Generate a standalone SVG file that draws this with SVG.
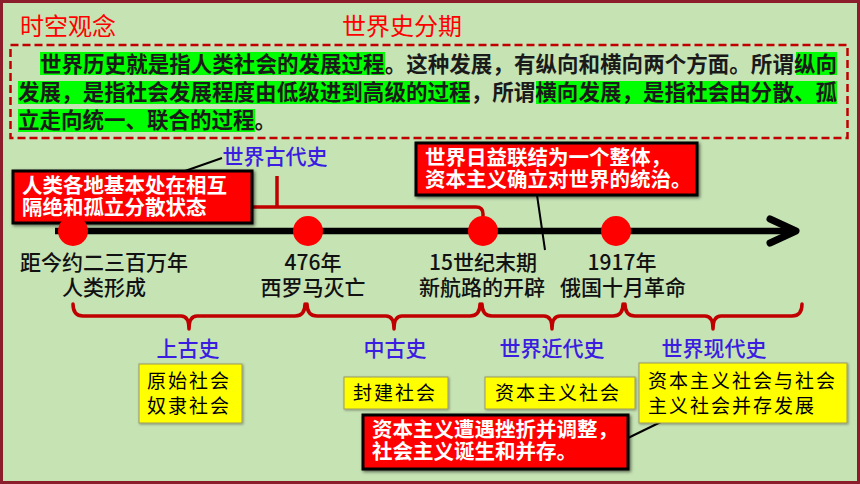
<svg xmlns="http://www.w3.org/2000/svg" width="860" height="484" viewBox="0 0 860 484">
<defs>
<style>
.hd{font-family:"Noto Sans CJK SC","Noto Sans",sans-serif;font-size:24px;fill:#FF0000}
.para{font-family:"Noto Sans CJK SC","Noto Sans",sans-serif;font-size:21.5px;font-weight:700;fill:#1a1a1a}
.hl{fill:#00FF00}
.lbl{font-family:"Noto Sans CJK SC","Noto Sans",sans-serif;font-size:21px;font-weight:500;fill:#111;text-anchor:middle}
.blue{font-family:"Noto Sans CJK SC","Noto Sans",sans-serif;font-size:21px;font-weight:500;fill:#3A1DE0;text-anchor:middle}
.rbox{fill:#FF0000;stroke:#000;stroke-width:3;filter:url(#sh)}
.rtxt{font-family:"Noto Sans CJK SC","Noto Sans",sans-serif;font-size:20.5px;font-weight:700;fill:#fff}
.ybox{fill:#FFFF00;stroke:#9a9a60;stroke-width:1;filter:url(#sh2)}
.ytxt{font-family:"Noto Sans CJK SC","Noto Sans",sans-serif;font-size:19px;fill:#000;letter-spacing:2px}
.brace{fill:none;stroke:#C00000;stroke-width:3.5;stroke-linecap:round;stroke-linejoin:round}
.dot{fill:#FF0000}
.lead{fill:none;stroke:#000;stroke-width:2}
</style>
<filter id="sh" x="-10%" y="-20%" width="120%" height="140%">
<feDropShadow dx="1.5" dy="1.5" stdDeviation="1.5" flood-color="#000" flood-opacity="0.55"/>
</filter>
<filter id="sh2" x="-10%" y="-20%" width="120%" height="140%">
<feDropShadow dx="1" dy="1" stdDeviation="1" flood-color="#000" flood-opacity="0.35"/>
</filter>
</defs>
<rect x="1.5" y="1.5" width="857" height="481" fill="#C6E3B4" stroke="#8B1E2A" stroke-width="3"/>

<g id="titles">
<text class="hd" x="20" y="35">时空观念</text>
<text class="hd" x="342" y="35">世界史分期</text>
</g>

<g id="definition">
<rect x="10.5" y="45" width="837" height="93" fill="none" stroke="#C00000" stroke-width="2.5" stroke-dasharray="8,4"/>
<rect class="hl" x="40" y="52" width="345" height="23"/>
<rect class="hl" x="796" y="52" width="41" height="23"/>
<rect class="hl" x="18" y="81" width="452" height="23"/>
<rect class="hl" x="536" y="81" width="301" height="23"/>
<rect class="hl" x="18" y="109" width="237" height="23"/>
<text class="para" x="40" y="72" textLength="797" lengthAdjust="spacing">世界历史就是指人类社会的发展过程。这种发展，有纵向和横向两个方面。所谓纵向</text>
<text class="para" x="18" y="100" textLength="819" lengthAdjust="spacing">发展，是指社会发展程度由低级进到高级的过程，所谓横向发展，是指社会由分散、孤</text>
<text class="para" x="18" y="128">立走向统一、联合的过程。</text>
</g>

<g id="connectors">
<path d="M252,207 L476,207 Q483,207 483,214 L483,220" fill="none" stroke="#C00000" stroke-width="3.5"/>
<path d="M277,176 L277,207" fill="none" stroke="#C00000" stroke-width="3.5"/>
<path class="lead" d="M222,158 L185,171"/>
<path class="lead" d="M537,195 L545,250"/>
<path class="lead" d="M628,438 L669,418"/>
<path d="M55,231 L794,231" stroke="#000" stroke-width="6.5" fill="none"/>
<polyline points="770,219 796,231 770,243" fill="none" stroke="#000" stroke-width="7" stroke-linecap="round" stroke-linejoin="round"/>
<path class="brace" d="M73,304 Q73,316 83,316 L181,316 Q189,316 189,329 Q189,316 197,316 L295,316 Q305,316 305,304"/>
<path class="brace" d="M307,304 Q307,316 317,316 L386,316 Q394,316 394,329 Q394,316 402,316 L470,316 Q480,316 480,304"/>
<path class="brace" d="M482,304 Q482,316 492,316 L544,316 Q552,316 552,329 Q552,316 560,316 L613,316 Q623,316 623,304"/>
<path class="brace" d="M625,304 Q625,316 635,316 L705,316 Q713,316 713,329 Q713,316 721,316 L792,316 Q802,316 802,304"/>
</g>

<g id="era-ancient-world">
<text class="blue" x="275" y="164">世界古代史</text>
</g>

<g id="note-isolation">
<rect class="rbox" x="13" y="171" width="239" height="52"/>
<text class="rtxt" x="22" y="193">人类各地基本处在相互</text>
<text class="rtxt" x="22" y="215">隔绝和孤立分散状态</text>
</g>

<g id="note-integration">
<rect class="rbox" x="416" y="143" width="281" height="52"/>
<text class="rtxt" x="425" y="165">世界日益联结为一个整体，</text>
<text class="rtxt" x="425" y="187">资本主义确立对世界的统治。</text>
</g>

<g id="point-origin">
<circle class="dot" cx="73" cy="231" r="15"/>
<text class="lbl" x="104" y="270">距今约二三百万年</text>
<text class="lbl" x="104" y="295">人类形成</text>
</g>
<g id="point-476">
<circle class="dot" cx="308" cy="231" r="15"/>
<text class="lbl" x="313" y="270">476年</text>
<text class="lbl" x="313" y="295">西罗马灭亡</text>
</g>
<g id="point-15c">
<circle class="dot" cx="483" cy="231" r="15"/>
<text class="lbl" x="483" y="270">15世纪末期</text>
<text class="lbl" x="482" y="295">新航路的开辟</text>
</g>
<g id="point-1917">
<circle class="dot" cx="616" cy="231" r="15"/>
<text class="lbl" x="622" y="270">1917年</text>
<text class="lbl" x="623" y="295">俄国十月革命</text>
</g>

<g id="era-ancient">
<text class="blue" x="188" y="356">上古史</text>
<rect class="ybox" x="139" y="364" width="103" height="59"/>
<text class="ytxt" x="147" y="388">原始社会</text>
<text class="ytxt" x="147" y="413">奴隶社会</text>
</g>
<g id="era-medieval">
<text class="blue" x="395" y="356">中古史</text>
<rect class="ybox" x="344" y="377" width="104" height="32"/>
<text class="ytxt" x="353" y="400">封建社会</text>
</g>
<g id="era-modern">
<text class="blue" x="552" y="356">世界近代史</text>
<rect class="ybox" x="485" y="377" width="150" height="32"/>
<text class="ytxt" x="495" y="400">资本主义社会</text>
</g>
<g id="era-contemporary">
<text class="blue" x="714" y="356">世界现代史</text>
<rect class="ybox" x="639" y="363" width="208" height="60"/>
<text class="ytxt" x="648" y="388">资本主义社会与社会</text>
<text class="ytxt" x="648" y="413">主义社会并存发展</text>
</g>

<g id="note-socialism">
<rect class="rbox" x="363" y="415" width="265" height="54"/>
<text class="rtxt" x="372" y="437">资本主义遭遇挫折并调整，</text>
<text class="rtxt" x="372" y="459">社会主义诞生和并存。</text>
</g>
</svg>
